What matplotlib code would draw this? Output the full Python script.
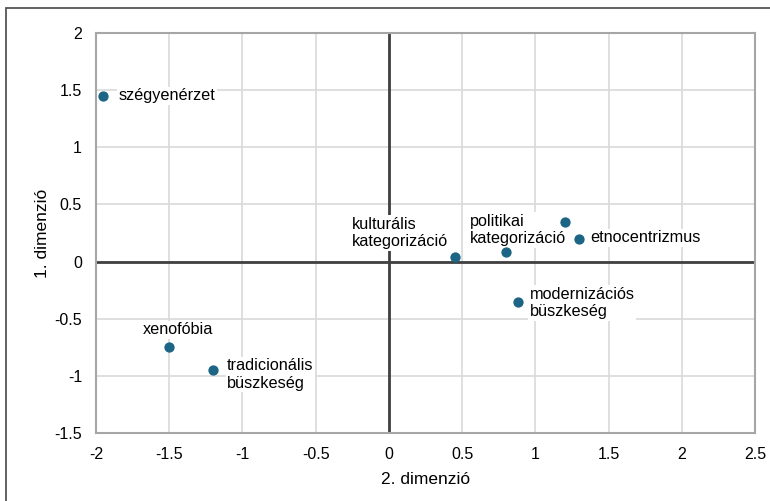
import matplotlib
matplotlib.use("Agg")
from matplotlib import pyplot as plt
from matplotlib.patches import Rectangle

plt.rcParams['font.family'] = ['Liberation Sans', 'DejaVu Sans']

# points of the map (2. dimension on x, 1. dimension on y)
labels = ["szégyenérzet", "xenofóbia", "tradicionális\nbüszkeség",
          "kulturális\nkategorizáció", "politikai\nkategorizáció", "",
          "etnocentrizmus", "modernizációs\nbüszkeség"]
dim2 = [-1.95, -1.5, -1.2, 0.45, 0.8, 1.2, 1.3, 0.88]
dim1 = [1.45, -0.75, -0.95, 0.04, 0.08, 0.35, 0.2, -0.35]

x_ticks = [-2, -1.5, -1, -0.5, 0, 0.5, 1, 1.5, 2, 2.5]
y_ticks = [-1.5, -1, -0.5, 0, 0.5, 1, 1.5, 2]

# label placement: offset in pixels, alignments
label_pos = [
    (15, 0, "left", "center"),
    (9, 13, "center", "baseline"),
    (14, 12, "left", "top"),
    (-7, 8, "right", "bottom"),
    (-36, 6, "left", "bottom"),
    (0, 0, "left", "center"),
    (11, 1, "left", "center"),
    (12, 15, "left", "top"),
]

fig = plt.figure(figsize=(7.7, 5.01), dpi=100)
ax = fig.add_axes([96 / 770, 1 - 433 / 501, 659 / 770, 400 / 501])

# outer frame of the figure (cut off on the right and bottom)
fig.patches.append(Rectangle((6 / 770, -0.1), 1.2, 1 - 8 / 501 + 0.1,
                             transform=fig.transFigure, fill=False,
                             edgecolor="#555555", linewidth=1.3))

ax.set_xlim(-2, 2.5)
ax.set_ylim(-1.5, 2)
ax.set_xticks(x_ticks)
ax.set_yticks(y_ticks)
ax.set_xticklabels([f"{t:g}" for t in x_ticks])
ax.set_yticklabels([f"{t:g}" for t in y_ticks])
ax.tick_params(length=0, labelsize=11.5, pad=10, colors="#000000")
ax.grid(True, color="#d9d9d9", linewidth=1.2)
ax.set_axisbelow(True)
for s in ax.spines.values():
    s.set_color("#a6a6a6")
    s.set_linewidth(1.5)

ax.axhline(0, color="#404040", linewidth=2, zorder=1)
ax.axvline(0, color="#404040", linewidth=2, zorder=1)

# points drawn above the label boxes
ax.scatter(dim2, dim1, s=55, color="#1d6584", zorder=5, linewidths=0)

for i in range(len(labels)):
    if labels[i] == "":
        continue
    dx, dy, ha, va = label_pos[i]
    ax.annotate(labels[i], (dim2[i], dim1[i]), xytext=(dx, dy),
                textcoords="offset pixels", ha=ha, va=va, fontsize=11.7,
                multialignment="left", linespacing=1.2, zorder=4,
                bbox=dict(boxstyle="square,pad=0.1", fc="white", ec="none"))

ax.set_xlabel("2. dimenzió", fontsize=12.5, labelpad=7)
ax.set_ylabel("1. dimenzió", fontsize=12.5, labelpad=3)

fig.savefig("out.png", dpi=100)
